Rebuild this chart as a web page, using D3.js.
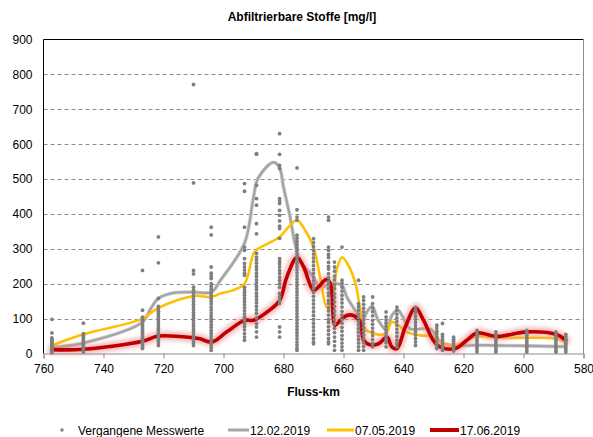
<!DOCTYPE html>
<html>
<head>
<meta charset="utf-8">
<script src="https://cdn.jsdelivr.net/npm/d3@7"></script>
<style>
  body { margin: 0; background: #fff; }
  svg text { font-family: "Liberation Sans", Arial, sans-serif; fill: #000; }
</style>
</head>
<body>
<svg id="chart" width="593" height="437"></svg>
<script>
// achse
const xTicks = [760, 740, 720, 700, 680, 660, 640, 620, 600, 580];
const yTicks = [0, 100, 200, 300, 400, 500, 600, 700, 800, 900];

// vergangene Messwerte je Messstelle (Fluss-km)
const stationKm = [757.2, 746.7, 727.0, 721.7, 710.0, 704.1, 693.0, 689.0, 681.3, 675.5,
                   670.0, 665.0, 663.0, 660.5, 655.0, 653.3, 650.3, 645.8, 642.2, 636.0,
                   628.9, 627.0, 623.3, 615.5, 609.2, 598.9, 589.2, 585.9];
const stationValues = [
  [98, 59, 45, 41, 36, 33, 28, 25, 21, 16, 13, 9, 5, 2],
  [87, 57, 52, 48, 43, 38, 34, 29, 25, 21, 16, 12, 8, 4],
  [238, 124, 104, 99, 94, 88, 82, 77, 71, 66, 61, 55, 49, 44, 38, 33, 27, 22, 17, 14],
  [334, 260, 158, 135, 128, 121, 115, 107, 100, 93, 86, 79, 72, 66, 58, 51, 44, 37, 30, 23],
  [771, 489, 238, 228, 190, 181, 173, 165, 157, 149, 141, 133, 126, 117, 109, 101, 93, 85, 78, 69, 61, 53, 45, 37, 30, 23],
  [362, 340, 248, 230, 222, 215, 200, 192, 184, 175, 167, 158, 150, 142, 133, 125, 116, 108, 100, 92, 83, 75, 66, 58, 50, 42, 33, 25, 17, 9],
  [487, 465, 362, 305, 296, 272, 258, 248, 239, 230, 224, 190, 182, 175, 167, 158, 149, 140, 131, 122, 113, 104, 95, 86, 77, 68, 57, 47, 38],
  [573, 571, 482, 444, 425, 372, 343, 287, 276, 268, 259, 249, 240, 230, 221, 211, 202, 192, 183, 173, 164, 154, 145, 135, 125, 115, 102, 86, 76, 62, 47],
  [630, 571, 539, 530, 444, 437, 430, 410, 396, 380, 365, 358, 330, 272, 264, 257, 248, 238, 229, 219, 210, 200, 190, 172, 162, 152, 143, 76, 62, 47],
  [532, 412, 391, 382, 339, 330, 321, 312, 303, 294, 285, 276, 267, 258, 249, 240, 231, 222, 213, 204, 195, 186, 177, 168, 159, 150, 141, 132, 123, 114, 105, 96, 87, 78, 69, 60, 51, 42, 33, 24, 15, 9],
  [329, 318, 307, 296, 285, 274, 263, 252, 241, 230, 219, 208, 197, 186, 175, 164, 153, 142, 131, 120, 109, 98, 87, 76, 65, 54, 43, 33, 28],
  [391, 382, 305, 296, 284, 275, 261, 250, 242, 229, 218, 207, 198, 186, 174, 165, 152, 143, 131, 122, 110, 98, 89, 77, 66, 55, 43, 33, 28],
  [262, 248, 236, 222, 211, 197, 186, 171, 160, 148, 135, 122, 110, 97, 85, 72, 60, 47, 35, 22, 9],
  [305, 210, 201, 190, 179, 167, 156, 145, 133, 121, 110, 98, 87, 75, 64, 52, 41, 30, 19, 9],
  [210, 143, 134, 124, 113, 103, 92, 82, 71, 61, 50, 40, 30, 19, 9],
  [162, 152, 141, 130, 119, 108, 97, 86, 75, 64, 53, 42, 31, 20, 9],
  [162, 143, 131, 120, 108, 95, 84, 73, 62, 51, 40, 29, 19],
  [119, 105, 96, 87, 78, 68, 59, 50, 41, 31, 19],
  [133, 124, 113, 102, 92, 81, 70, 60, 49, 38, 28, 19],
  [133, 124, 116, 107, 98, 89, 80, 71, 62, 53, 43, 33, 23],
  [81, 73, 64, 56, 47, 39, 30, 22, 14],
  [86, 55, 48, 41, 34, 27, 20, 14, 9],
  [47, 41, 35, 29, 23, 17, 11, 7],
  [66, 59, 52, 45, 38, 31, 24, 17, 10, 4],
  [62, 55, 48, 41, 34, 27, 20, 13, 7, 4],
  [66, 59, 52, 45, 38, 31, 24, 17, 10, 4],
  [62, 55, 48, 41, 34, 27, 20, 13, 7, 4],
  [55, 49, 42, 36, 29, 23, 16, 10, 4]
];

// 12.02.2019
const febKm = [757.2, 746.7, 727, 724.5, 721.7, 717, 710, 704, 701, 693,
               690, 688.5, 683.4, 681.4, 680, 677.8, 676.2, 674.6, 670, 667.8,
               663.4, 660.5, 658.9, 655.5, 653.9, 652.2, 650.5, 648.4, 645.5, 643.9,
               641.8, 640, 637.8, 631, 627.7, 623.4, 615.5, 609, 599, 589, 585.9];
const febVal = [17, 30, 90, 125, 158, 173, 176, 176, 210, 316,
                448, 502, 548, 534, 477, 391, 316, 267, 219, 190,
                201, 195, 162, 115, 90, 119, 135, 95, 66, 109,
                124, 101, 71, 70, 33, 23, 24, 23, 22, 20, 20];

// 07.05.2019
const mayKm = [757.2, 746.7, 727, 721.7, 710, 704, 701, 697, 693, 690,
               688.5, 681.3, 678.4, 675.5, 673.4, 670, 667.8, 665.5, 664, 662.3,
               660.5, 658.4, 656, 654.4, 653.3, 650, 646, 643.9, 641.7, 639,
               634.4, 630.1, 626.8, 622.8, 618.9, 615.5, 608.9, 600, 589.4, 585.9];
const mayVal = [23, 55, 100, 131, 165, 162, 172, 181, 200, 286,
                300, 334, 362, 382, 362, 305, 219, 133, 140, 238,
                276, 253, 200, 124, 76, 57, 57, 90, 81, 62,
                52, 49, 28, 23, 38, 49, 45, 45, 43, 33];

// 17.06.2019
const junKm = [757.2, 746.7, 727, 721.7, 710, 707.8, 703.9, 698.9, 693, 690,
               685.5, 681.3, 678.9, 675.5, 673.3, 670, 668.4, 665.8, 664.4, 662.8,
               661.1, 658.9, 656.7, 654.4, 653.3, 651.1, 648.3, 645.5, 643.9, 642.2,
               639.4, 636, 633.3, 630.1, 627.8, 622.8, 618.9, 615.5, 608.9, 598.9,
               589.2, 585.9];
const junVal = [11, 12, 35, 50, 45, 42, 33, 62, 95, 95,
                119, 152, 219, 276, 248, 181, 190, 212, 201, 81,
                95, 109, 109, 90, 38, 25, 28, 47, 19, 14,
                76, 131, 95, 38, 19, 14, 38, 59, 49, 62,
                55, 38];

const svg = d3.select("#chart");
const pLeft = 43.5, pRight = 583.5, pTop = 39.5, pBottom = 353.5;

const x = d3.scaleLinear().domain([760, 580]).range([pLeft, pRight]);
const y = d3.scaleLinear().domain([0, 900]).range([pBottom, pTop]);

const defs = svg.append("defs");
defs.append("filter").attr("id", "glow")
    .attr("filterUnits", "userSpaceOnUse")
    .attr("x", 0).attr("y", 0).attr("width", 593).attr("height", 437)
  .append("feGaussianBlur").attr("stdDeviation", 2);
defs.append("filter").attr("id", "soft")
    .attr("filterUnits", "userSpaceOnUse")
    .attr("x", 0).attr("y", 0).attr("width", 593).attr("height", 437)
  .append("feGaussianBlur").attr("stdDeviation", 0.6);

// title
svg.append("text")
    .attr("x", 302).attr("y", 21)
    .attr("text-anchor", "middle")
    .style("font-size", "12px").style("font-weight", "bold")
    .text("Abfiltrierbare Stoffe [mg/l]");

// gridlines
svg.append("g")
    .selectAll("line")
    .data(yTicks.filter(d => d > 0 && d < 900))
    .enter().append("line")
    .attr("x1", pLeft).attr("x2", pRight)
    .attr("y1", d => Math.round(y(d)) + 0.5).attr("y2", d => Math.round(y(d)) + 0.5)
    .style("stroke", "#8c8c8c")
    .style("stroke-dasharray", "4,3");

const line = d3.line()
    .x(d => x(d[0]))
    .y(d => y(d[1]))
    .curve(d3.curveCatmullRom.alpha(0.5));

const febData = d3.zip(febKm, febVal);
const mayData = d3.zip(mayKm, mayVal);
const junData = d3.zip(junKm, junVal);

const lines = svg.append("g").style("fill", "none")
    .style("stroke-linejoin", "round").style("stroke-linecap", "round");

lines.append("path").attr("d", line(febData))
    .style("stroke", "#d6d6d6").style("stroke-width", 3.8).attr("filter", "url(#soft)");
lines.append("path").attr("d", line(febData))
    .style("stroke", "#a5a5a5").style("stroke-width", 2.4);

lines.append("path").attr("d", line(mayData))
    .style("stroke", "#ffc000").style("stroke-width", 2.6);

lines.append("path").attr("d", line(junData))
    .style("stroke", "#f08a8a").style("stroke-width", 9).style("opacity", 0.6)
    .attr("filter", "url(#glow)");
lines.append("path").attr("d", line(junData))
    .style("stroke", "#c00000").style("stroke-width", 3.6);

// past measurements
const dots = [];
stationKm.forEach(function (km, i) {
    stationValues[i].forEach(function (v) { dots.push([km, v]); });
});

svg.append("g")
    .selectAll("circle")
    .data(dots)
    .enter().append("circle")
    .attr("cx", d => x(d[0]))
    .attr("cy", d => y(d[1]))
    .attr("r", 1.9)
    .style("fill", "#7f7f7f");

// frame
svg.append("line").attr("x1", pLeft).attr("x2", pRight).attr("y1", pTop).attr("y2", pTop)
    .style("stroke", "#000");
svg.append("line").attr("x1", pLeft).attr("x2", pLeft).attr("y1", pTop).attr("y2", pBottom)
    .style("stroke", "#000");
svg.append("line").attr("x1", pRight).attr("x2", pRight).attr("y1", pTop).attr("y2", pBottom)
    .style("stroke", "#8c8c8c");

// x axis
const xAxis = svg.append("g")
    .attr("transform", "translate(0," + pBottom + ")")
    .call(d3.axisBottom(x).tickValues(xTicks).tickSize(5).tickPadding(6).tickFormat(d3.format("d")));
xAxis.select(".domain").style("stroke", "#8c8c8c");
xAxis.selectAll(".tick line").style("stroke", "#8c8c8c");
xAxis.selectAll("text").style("font-size", "12px").style("font-family", "Liberation Sans, Arial, sans-serif");

// y axis
const yAxis = svg.append("g")
    .attr("transform", "translate(" + pLeft + ",0)")
    .call(d3.axisLeft(y).tickValues(yTicks).tickSize(0).tickPadding(11));
yAxis.select(".domain").remove();
yAxis.selectAll("text").style("font-size", "12px").style("font-family", "Liberation Sans, Arial, sans-serif");

svg.append("text")
    .attr("x", (pLeft + pRight) / 2).attr("y", 396)
    .attr("text-anchor", "middle")
    .style("font-size", "12px").style("font-weight", "bold")
    .text("Fluss-km");

// legend
const lg = svg.append("g").attr("transform", "translate(0,430)");
lg.append("circle").attr("cx", 62).attr("cy", 0).attr("r", 1.7).style("fill", "#7f7f7f");
lg.append("text").attr("x", 78).attr("y", 4.5).style("font-size", "12px").text("Vergangene Messwerte");

const legendItems = [
    {x1: 228, x2: 249, tx: 250, color: "#a5a5a5", w: 3, label: "12.02.2019"},
    {x1: 327, x2: 354, tx: 355, color: "#ffc000", w: 3, label: "07.05.2019"},
    {x1: 430, x2: 459, tx: 460, color: "#c00000", w: 4, label: "17.06.2019"}
];
legendItems.forEach(function (d) {
    lg.append("line").attr("x1", d.x1).attr("x2", d.x2).attr("y1", 0).attr("y2", 0)
        .style("stroke", d.color).style("stroke-width", d.w);
    lg.append("text").attr("x", d.tx).attr("y", 4.5).style("font-size", "12px").text(d.label);
});
</script>
</body>
</html>
